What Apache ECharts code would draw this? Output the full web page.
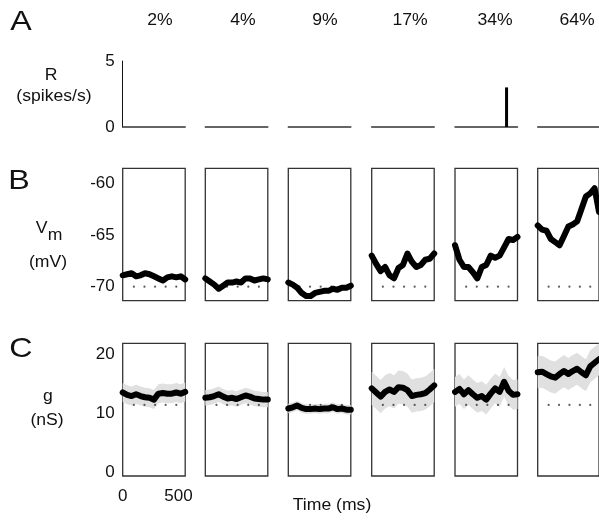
<!DOCTYPE html>
<html>
<head>
<meta charset="utf-8">
<script src="https://cdn.jsdelivr.net/npm/echarts@6/dist/echarts.min.js"></script>
<style>html,body{margin:0;padding:0;background:#fff;}#c{width:599px;height:521px;}</style>
</head>
<body>
<div id="c"></div>
<script>
// ---------------- DATA ----------------
const contrasts = ['2%', '4%', '9%', '17%', '34%', '64%'];
const timesMs = [0, 40, 80, 120, 160, 200, 240, 280, 320, 360, 400, 440, 480, 520, 560];

// A: firing rate (spikes/s); spikes as [time, height]
const rate_2 = [], rate_4 = [], rate_9 = [], rate_17 = [], rate_34 = [[462, 3]], rate_64 = [];

// B: membrane potential (mV)
const vm_2  = [-68.9, -68.8, -68.7, -69.0, -68.9, -68.7, -68.8, -69.0, -69.2, -69.4, -69.1, -69.0, -69.1, -69.0, -69.3];
const vm_4  = [-69.2, -69.5, -69.8, -70.2, -69.9, -69.6, -69.6, -69.5, -69.6, -69.2, -69.2, -69.4, -69.3, -69.2, -69.3];
const vm_9  = [-69.6, -69.8, -70.1, -70.6, -70.9, -70.9, -70.6, -70.5, -70.4, -70.4, -70.2, -70.3, -70.1, -70.1, -69.9];
const vm_17 = [-67.0, -67.8, -68.5, -68.1, -68.9, -69.2, -68.2, -67.9, -66.8, -67.6, -68.1, -67.9, -67.4, -67.3, -66.8];
const vm_34 = [-66.0, -67.4, -68.1, -68.1, -68.6, -69.2, -68.1, -67.9, -67.0, -67.2, -67.0, -66.2, -65.4, -65.5, -65.2];
const vm_64 = [-64.1, -64.5, -64.6, -65.4, -65.7, -66.0, -65.1, -64.2, -64.0, -63.7, -62.5, -61.3, -61.0, -60.5, -62.8];
const vmRest = -70;

// C: conductance (nS) and half-width of the grey band
const g_2  = [13.5, 13.1, 12.9, 13.2, 12.9, 12.7, 12.6, 12.3, 13.3, 13.4, 13.3, 13.3, 13.5, 13.3, 13.6];
const g_4  = [12.6, 12.7, 12.9, 13.2, 12.8, 12.5, 12.6, 12.4, 12.7, 13.0, 12.8, 12.5, 12.4, 12.3, 12.3];
const g_9  = [10.8, 11.0, 11.3, 10.9, 10.7, 10.7, 10.8, 10.7, 10.8, 10.8, 11.0, 10.7, 10.8, 10.6, 10.6];
const g_17 = [14.2, 13.5, 12.8, 13.6, 14.0, 13.6, 14.4, 14.3, 13.9, 12.9, 13.1, 13.2, 13.4, 14.0, 14.7];
const g_34 = [13.6, 14.1, 13.2, 13.9, 13.2, 12.6, 12.9, 12.3, 13.3, 14.2, 13.6, 15.3, 13.8, 13.1, 13.2];
const g_64 = [16.9, 17.0, 16.6, 16.2, 16.0, 16.6, 17.1, 16.6, 17.1, 17.5, 16.9, 16.4, 17.9, 18.5, 19.1];
const gBandHalf = [1.6, 1.3, 0.8, 2.8, 2.5, 2.7];
const gRest = 11.4;
const restDotTimes = [100, 195, 290, 385, 480];

const rateTicks = [0, 5], vmTicks = [-70, -65, -60], gTicks = [0, 10, 20], timeTicks = [0, 500];

// ---------------- LAYOUT ----------------
const rates = [rate_2, rate_4, rate_9, rate_17, rate_34, rate_64];
const vms = [vm_2, vm_4, vm_9, vm_17, vm_34, vm_64];
const gs = [g_2, g_4, g_9, g_17, g_34, g_64];
const colLeft = [122.7, 205.3, 288.3, 371.7, 455, 537.7];
const colW = 62.5;
const FONT = 'Liberation Sans, Arial, sans-serif';
const LBL = {fontSize: 17, color: '#111', fontFamily: FONT};
const rows = [
  {top: 61, height: 66, min: 0, max: 5, ticks: rateTicks},
  {top: 168.3, height: 132.4, min: -71.35, max: -58.58, ticks: vmTicks},
  {top: 343.3, height: 132.7, min: -0.56, max: 21.78, ticks: gTicks}
];

const grid = [], xAxis = [], yAxis = [], series = [];
rows.forEach((r, ri) => {
  for (let c = 0; c < 6; c++) {
    const idx = grid.length;
    grid.push({left: colLeft[c], top: r.top, width: colW, height: r.height,
      show: ri > 0, borderColor: '#333', borderWidth: 1.3, backgroundColor: 'transparent'});
    xAxis.push({type: 'value', gridIndex: idx, min: 0, max: 560,
      axisLine: {show: ri === 0, lineStyle: {color: '#333', width: 1.5}},
      axisTick: {show: false}, splitLine: {show: false},
      axisLabel: (ri === 2 && c === 0) ? Object.assign({customValues: timeTicks, margin: 12}, LBL) : {show: false}
    });
    yAxis.push({type: 'value', gridIndex: idx, min: r.min, max: r.max,
      axisLine: {show: ri === 0 && c === 0, lineStyle: {color: '#111', width: 1}},
      axisTick: {show: false}, splitLine: {show: false},
      axisLabel: c === 0 ? Object.assign({customValues: r.ticks, margin: 8}, LBL) : {show: false}
    });
    if (ri === 0) {
      series.push({type: 'bar', xAxisIndex: idx, yAxisIndex: idx, data: rates[c], barWidth: 3,
        itemStyle: {color: '#000'}, silent: true});
    } else if (ri === 1) {
      series.push({type: 'scatter', xAxisIndex: idx, yAxisIndex: idx, symbolSize: 2.2,
        itemStyle: {color: '#333'}, data: restDotTimes.map(t => [t, vmRest]), silent: true});
      series.push({type: 'line', xAxisIndex: idx, yAxisIndex: idx, showSymbol: false, symbol: 'none',
        data: timesMs.map((t, i) => [t, vms[c][i]]),
        lineStyle: {color: '#000', width: 6, join: 'round', cap: 'round'}, silent: true});
    } else {
      const h = gBandHalf[c];
      const vals = gs[c];
      series.push({type: 'custom', xAxisIndex: idx, yAxisIndex: idx, silent: true, clip: true, z: 1,
        data: [[0]],
        renderItem: function (params, api) {
          const up = timesMs.map((t, i) => api.coord([t, vals[i] + h]));
          const lo = timesMs.map((t, i) => api.coord([t, vals[i] - h])).reverse();
          return {type: 'polygon', shape: {points: up.concat(lo)}, style: {fill: '#e0e0e0'}};
        }});
      series.push({type: 'scatter', xAxisIndex: idx, yAxisIndex: idx, symbolSize: 2.2,
        itemStyle: {color: '#333'}, data: restDotTimes.map(t => [t, gRest]), silent: true, z: 3});
      series.push({type: 'line', xAxisIndex: idx, yAxisIndex: idx, symbol: 'none',
        data: timesMs.map((t, i) => [t, vals[i]]),
        lineStyle: {color: '#000', width: 6, join: 'round', cap: 'round'}, silent: true, z: 4});
    }
  }
});

const headerX = [160, 243, 325, 410, 495, 577];
const txt = (x, y, s, size, sx) => ({type: 'text', x: x, y: y, scaleX: sx || 1.1,
  style: {text: s, fontSize: size, fontFamily: FONT, fill: '#111', align: 'center', verticalAlign: 'middle'}});
const graphic = [
  txt(21, 22, 'A', 28, 1.15), txt(19, 181, 'B', 28, 1.15), txt(21, 349, 'C', 28, 1.15),
  txt(51, 76, 'R', 16), txt(54, 97, '(spikes/s)', 16),
  txt(41.5, 229, 'V', 16), txt(55, 236, 'm', 16), txt(48, 263, '(mV)', 16),
  txt(48, 397, 'g', 16), txt(47, 421, '(nS)', 16),
  txt(332, 506, 'Time (ms)', 16)
];
contrasts.forEach((s, i) => graphic.push(txt(headerX[i], 20.5, s, 16)));

const chart = echarts.init(document.getElementById('c'), null, {renderer: 'canvas'});
chart.setOption({animation: false, backgroundColor: '#fff', grid, xAxis, yAxis, series, graphic});
</script>
</body>
</html>
